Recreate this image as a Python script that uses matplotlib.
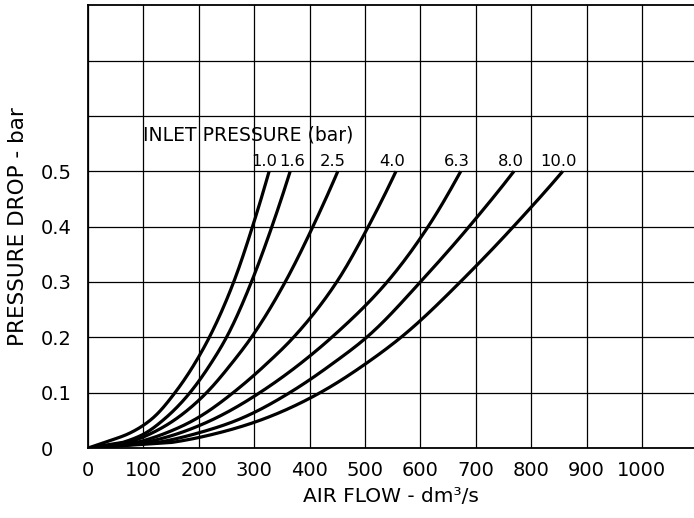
import numpy as np
import matplotlib
matplotlib.use('Agg')
import matplotlib.pyplot as plt

plt.rcParams['font.family'] = ['DejaVu Sans']

# pressure drop (bar) at which the flow of each curve was read
drops = [0, 0.01, 0.025, 0.05, 0.1, 0.15, 0.2, 0.3, 0.4, 0.5]

# air flow (dm3/s) for each inlet pressure curve
inlet_labels = ['1.0', '1.6', '2.5', '4.0', '6.3', '8.0', '10.0']
flow_1_0 = [0, 29, 71, 112, 157, 191, 219, 263, 297, 327]
flow_1_6 = [0, 62, 100, 135, 184, 220, 250, 295, 332, 365]
flow_2_5 = [0, 72, 111, 155, 214, 257, 295, 356, 406, 451]
flow_4_0 = [0, 87, 135, 190, 262, 320, 371, 449, 506, 556]
flow_6_3 = [0, 102, 159, 222, 310, 380, 440, 540, 614, 673]
flow_8_0 = [0, 125, 191, 268, 364, 438, 503, 600, 688, 769]
flow_10_0 = [0, 150, 226, 310, 419, 498, 565, 672, 768, 857]
curves = [flow_1_0, flow_1_6, flow_2_5, flow_4_0, flow_6_3, flow_8_0, flow_10_0]

x_ticks = list(range(0, 1001, 100))
y_ticks = [0, 0.1, 0.2, 0.3, 0.4, 0.5, 0.6, 0.7]
y_tick_labels = ['0', '0.1', '0.2', '0.3', '0.4', '0.5', '', '']


def pchip(x, y, xx):
    h = np.diff(x)
    d = np.diff(y) / h
    m = np.empty_like(x)
    m[0], m[-1] = d[0], d[-1]
    for k in range(1, len(x) - 1):
        if d[k - 1] * d[k] <= 0:
            m[k] = 0
        else:
            w1 = 2 * h[k] + h[k - 1]
            w2 = h[k] + 2 * h[k - 1]
            m[k] = (w1 + w2) / (w1 / d[k - 1] + w2 / d[k])
    idx = np.clip(np.searchsorted(x, xx) - 1, 0, len(x) - 2)
    t = (xx - x[idx]) / h[idx]
    h00 = 2 * t**3 - 3 * t**2 + 1
    h10 = t**3 - 2 * t**2 + t
    h01 = -2 * t**3 + 3 * t**2
    h11 = t**3 - t**2
    return h00 * y[idx] + h10 * h[idx] * m[idx] + h01 * y[idx + 1] + h11 * h[idx] * m[idx + 1]


def smooth(ps, qs, n=300):
    # smooth drawing path through the read points (log-log, plus the origin)
    p = np.asarray(ps[1:], float)
    q = np.asarray(qs[1:], float)
    lp = np.linspace(np.log(p[0]), np.log(p[-1]), n)
    lq = pchip(np.log(p), np.log(q), lp)
    return np.r_[0, np.exp(lq)], np.r_[0, np.exp(lp)]


fig = plt.figure(figsize=(6.94, 5.18), dpi=100)
ax = fig.add_axes([0.1268, 0.135, 0.8732, 0.855])

for flows in curves:
    q, p = smooth(drops, flows)
    ax.plot(q, p, color='black', lw=2.3, solid_capstyle='butt',
            solid_joinstyle='round', zorder=3)

# label nudges so text sits above the curve ends like the original
nudges = [-8, 4, -10, -6, -8, -5, -7]
for flows, lab, dx in zip(curves, inlet_labels, nudges):
    ax.text(flows[-1] + dx, 0.517, lab, ha='center', va='center', fontsize=11.8)
ax.text(99, 0.565, 'INLET PRESSURE (bar)', ha='left', va='center', fontsize=13.5)

ax.set_xlim(0, 1094)
ax.set_ylim(0, 0.8)
ax.set_xticks(x_ticks)
ax.set_yticks(y_ticks)
ax.set_yticklabels(y_tick_labels, ha='left')
ax.grid(True, color='black', lw=0.9)
ax.tick_params(length=0, labelsize=14)
ax.tick_params(axis='y', pad=34)
ax.tick_params(axis='x', pad=9)
for s in ['left', 'top', 'bottom']:
    ax.spines[s].set_linewidth(1.3)
ax.spines['right'].set_visible(False)

ax.set_xlabel('AIR FLOW - dm³/s', fontsize=14.5, labelpad=5)
ax.set_ylabel('PRESSURE DROP - bar', fontsize=15.5)
ax.yaxis.set_label_coords(-0.099, 0.5)

fig.savefig('out.png', dpi=100)
